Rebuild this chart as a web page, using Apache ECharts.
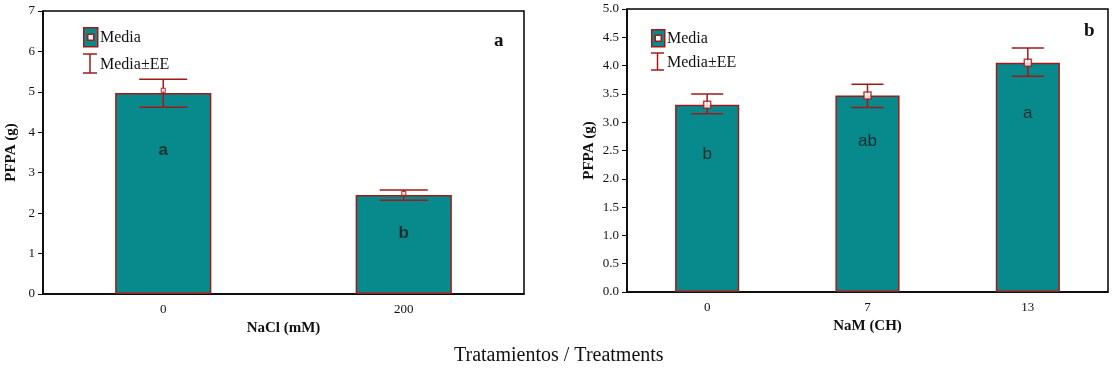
<!DOCTYPE html>
<html>
<head>
<meta charset="utf-8">
<script src="https://cdn.jsdelivr.net/npm/echarts@6/dist/echarts.min.js"></script>
<style>
  html, body { margin: 0; padding: 0; background: #fff; }
  #chart { width: 1118px; height: 369px; }
</style>
</head>
<body>
<div id="chart"></div>
<script>
// panel a: NaCl
const catsA = ['0', '200'];
const meanA = [4.97, 2.45];
const markA = [5.04, 2.49];
const hiA = [5.31, 2.57];
const loA = [4.62, 2.32];
const letA = ['a', 'b'];

// panel b: NaM
const catsB = ['0', '7', '13'];
const meanB = [3.31, 3.47, 4.05];
const hiB = [3.50, 3.67, 4.31];
const loB = [3.15, 3.26, 3.81];
const letB = ['b', 'ab', 'a'];

const TEAL = '#088a8c';
const RED = '#a01a1a';
const INK = '#111';
const SERIF = '"Liberation Serif", "DejaVu Serif", serif';

const chart = echarts.init(document.getElementById('chart'));

function errorSeries(idx, hi, lo) {
  return {
    type: 'custom',
    xAxisIndex: idx,
    yAxisIndex: idx,
    silent: true,
    z: 5,
    data: hi.map((h, i) => [i, lo[i], h]),
    renderItem: (params, api) => {
      const x = api.value(0);
      const pHi = api.coord([x, api.value(2)]);
      const pLo = api.coord([x, api.value(1)]);
      const half = api.size([1, 0])[0] * 0.1;
      const st = { stroke: RED, lineWidth: 1.5 };
      return {
        type: 'group',
        children: [
          { type: 'line', shape: { x1: pHi[0], y1: pHi[1], x2: pLo[0], y2: pLo[1] }, style: st },
          { type: 'line', shape: { x1: pHi[0] - half, y1: pHi[1], x2: pHi[0] + half, y2: pHi[1] }, style: st },
          { type: 'line', shape: { x1: pLo[0] - half, y1: pLo[1], x2: pLo[0] + half, y2: pLo[1] }, style: st },
        ],
      };
    },
  };
}

function barSeries(idx, vals, letters, drops, bold) {
  return {
    type: 'bar',
    xAxisIndex: idx,
    yAxisIndex: idx,
    barWidth: '40%',
    itemStyle: { color: TEAL, borderColor: RED, borderWidth: 1.5 },
    data: vals.map((v, i) => ({
      value: v,
      label: {
        show: true,
        position: 'insideTop',
        distance: drops[i],
        formatter: letters[i],
        fontFamily: 'Arial, "Liberation Sans", sans-serif',
        fontSize: 17,
        fontWeight: bold ? 'bold' : 'normal',
        color: '#17302f',
      },
    })),
  };
}

function legendGraphics(x, y, w, h, gap) {
  const cx = x + w / 2;
  return [
    { type: 'rect', left: x, top: y, shape: { width: w, height: h }, style: { fill: TEAL, stroke: RED, lineWidth: 1.5 } },
    { type: 'rect', left: cx - 3, top: y + h / 2 - 3, shape: { width: 6, height: 6 }, style: { fill: '#fff', stroke: RED, lineWidth: 1.5 } },
    { type: 'text', left: x + w + 3, top: y + h / 2 - 7, style: { text: 'Media', font: '16px ' + SERIF, fill: INK } },
    { type: 'line', shape: { x1: cx, y1: y + gap, x2: cx, y2: y + gap + h }, style: { stroke: RED, lineWidth: 1.5 } },
    { type: 'line', shape: { x1: x, y1: y + gap, x2: x + w, y2: y + gap }, style: { stroke: RED, lineWidth: 1.5 } },
    { type: 'line', shape: { x1: x, y1: y + gap + h, x2: x + w, y2: y + gap + h }, style: { stroke: RED, lineWidth: 1.5 } },
    { type: 'text', left: x + w + 3, top: y + gap + h / 2 - 7, style: { text: 'Media±EE', font: '16px ' + SERIF, fill: INK } },
  ];
}

const axisText = { color: INK, fontFamily: SERIF, fontSize: 13 };
const nameText = { color: INK, fontFamily: SERIF, fontSize: 15, fontWeight: 'bold' };

function xAxis(idx, cats, name) {
  return {
    type: 'category',
    gridIndex: idx,
    data: cats,
    name,
    nameLocation: 'middle',
    nameGap: 26,
    nameTextStyle: nameText,
    axisLine: { lineStyle: { color: '#000', width: 1.5 } },
    axisTick: { alignWithLabel: true, length: 5, lineStyle: { color: '#000' } },
    axisLabel: Object.assign({ margin: 9 }, axisText),
  };
}

function yAxis(idx, max, interval, nameGap, fmt) {
  return {
    type: 'value',
    gridIndex: idx,
    min: 0,
    max,
    interval,
    name: 'PFPA (g)',
    nameLocation: 'middle',
    nameGap,
    nameTextStyle: nameText,
    axisLine: { show: true, lineStyle: { color: '#000', width: 1.5 } },
    axisTick: { show: true, length: 5, lineStyle: { color: '#000' } },
    splitLine: { show: false },
    axisLabel: Object.assign({ margin: 8, formatter: fmt }, axisText),
  };
}

chart.setOption({
  animation: false,
  backgroundColor: '#fff',
  grid: [
    { left: 43, top: 11, width: 481, height: 283, show: true, borderColor: '#000', borderWidth: 1.5 },
    { left: 627, top: 9, width: 481, height: 283, show: true, borderColor: '#000', borderWidth: 1.5 },
  ],
  xAxis: [xAxis(0, catsA, 'NaCl (mM)'), xAxis(1, catsB, 'NaM (CH)')],
  yAxis: [
    yAxis(0, 7, 1, 24, (v) => String(v)),
    yAxis(1, 5, 0.5, 30, (v) => v.toFixed(1)),
  ],
  series: [
    barSeries(0, meanA, letA, [49, 30], true),
    errorSeries(0, hiA, loA),
    {
      type: 'scatter', xAxisIndex: 0, yAxisIndex: 0, z: 6,
      symbol: 'rect', symbolSize: 4,
      itemStyle: { color: '#fff', borderColor: RED, borderWidth: 1.2 },
      data: markA,
    },
    barSeries(1, meanB, letB, [41, 37, 42], false),
    errorSeries(1, hiB, loB),
    {
      type: 'scatter', xAxisIndex: 1, yAxisIndex: 1, z: 6,
      symbol: 'rect', symbolSize: 7,
      itemStyle: { color: '#fff', borderColor: RED, borderWidth: 1.5 },
      data: meanB,
    },
  ],
  graphic: [
    ...legendGraphics(83, 27, 14, 19, 27),
    ...legendGraphics(651, 29, 13, 17, 24),
    { type: 'text', left: 494, top: 32, style: { text: 'a', font: 'bold 19px ' + SERIF, fill: INK } },
    { type: 'text', left: 1084, top: 22, style: { text: 'b', font: 'bold 19px ' + SERIF, fill: INK } },
    { type: 'text', left: 454, top: 346, style: { text: 'Tratamientos / Treatments', font: '20px ' + SERIF, fill: INK } },
  ],
});
</script>
</body>
</html>
